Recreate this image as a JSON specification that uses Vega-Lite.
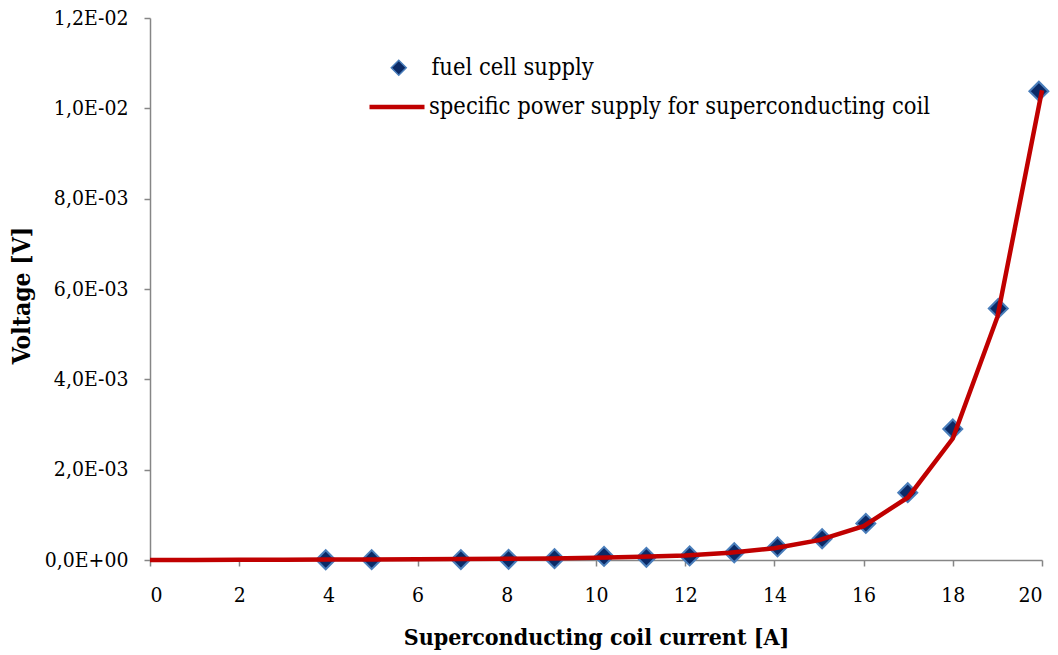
{
  "$schema": "https://vega.github.io/schema/vega-lite/v6.json",
  "width": 892,
  "height": 542,
  "autosize": {"type": "none"},
  "padding": {"left": 150, "top": 18, "right": 16, "bottom": 95},
  "background": "white",
  "config": {
    "view": {"stroke": null},
    "font": "DejaVu Serif Condensed",
    "axis": {
      "grid": false,
      "domainColor": "#868686",
      "domainWidth": 1.5,
      "tickColor": "#868686",
      "tickWidth": 1.5,
      "tickSize": 6,
      "labelFont": "DejaVu Serif Condensed",
      "labelColor": "#000000",
      "titleFont": "DejaVu Serif Condensed",
      "titleColor": "#000000",
      "titleFontWeight": "bold",
      "titleFontSize": 23
    },
    "legend": {
      "labelFont": "DejaVu Serif Condensed",
      "labelFontSize": 23.5,
      "labelColor": "#000000",
      "labelLimit": 900
    }
  },
  "datasets": {
    "points": [
      {"current": 3.94, "voltage": 0.000005},
      {"current": 4.97, "voltage": 0.000008},
      {"current": 6.97, "voltage": 0.00001},
      {"current": 8.04, "voltage": 0.000015},
      {"current": 9.07, "voltage": 0.00003},
      {"current": 10.18, "voltage": 0.00008},
      {"current": 11.13, "voltage": 0.00006},
      {"current": 12.1, "voltage": 0.00009},
      {"current": 13.1, "voltage": 0.00016},
      {"current": 14.07, "voltage": 0.00029},
      {"current": 15.07, "voltage": 0.00047},
      {"current": 16.05, "voltage": 0.00081},
      {"current": 16.99, "voltage": 0.00149},
      {"current": 18.0, "voltage": 0.0029},
      {"current": 19.02, "voltage": 0.00557},
      {"current": 19.93, "voltage": 0.01038}
    ],
    "line": [
      {"current": 0, "voltage": 0},
      {"current": 1, "voltage": 0.000002},
      {"current": 2, "voltage": 0.000004},
      {"current": 3, "voltage": 0.000007},
      {"current": 4, "voltage": 0.00001},
      {"current": 5, "voltage": 0.000012},
      {"current": 6, "voltage": 0.000015},
      {"current": 7, "voltage": 0.00002},
      {"current": 8, "voltage": 0.000025},
      {"current": 9, "voltage": 0.000035},
      {"current": 10, "voltage": 0.00005},
      {"current": 11, "voltage": 0.00007},
      {"current": 12, "voltage": 0.0001},
      {"current": 13, "voltage": 0.00016},
      {"current": 14, "voltage": 0.00026},
      {"current": 15, "voltage": 0.00044},
      {"current": 16, "voltage": 0.00075},
      {"current": 17, "voltage": 0.00139},
      {"current": 18, "voltage": 0.00269},
      {"current": 19, "voltage": 0.00538},
      {"current": 20, "voltage": 0.0104}
    ]
  },
  "layer": [
    {
      "data": {"name": "points"},
      "mark": {"type": "point", "shape": "diamond", "filled": true, "size": 360, "opacity": 1, "stroke": "#4A7EBB", "strokeWidth": 2},
      "encoding": {
        "x": {
          "field": "current", "type": "quantitative",
          "scale": {"domain": [0, 20], "nice": false, "zero": false},
          "axis": {
            "values": [0, 2, 4, 6, 8, 10, 12, 14, 16, 18, 20],
            "labelFontSize": 21,
            "labelPadding": 18,
            "title": "Superconducting coil current [A]",
            "titleY": 66
          }
        },
        "y": {
          "field": "voltage", "type": "quantitative",
          "scale": {"domain": [0, 0.012], "nice": false},
          "axis": {
            "values": [0, 0.002, 0.004, 0.006, 0.008, 0.01, 0.012],
            "labelExpr": "replace(replace(replace(format(datum.value, '.1e'), '.', ','), 'e-', 'E-0'), 'e+', 'E+0')",
            "labelFontSize": 21,
            "labelPadding": 16,
            "title": "Voltage [V]",
            "titleFontSize": 24.5,
            "titleX": -116,
            "titleY": 277
          }
        },
        "color": {
          "datum": "fuel cell supply",
          "type": "nominal",
          "scale": {"range": ["#0B2A66"]},
          "legend": {
            "title": null,
            "orient": "none",
            "legendX": 237,
            "legendY": 38,
            "symbolType": "diamond",
            "symbolSize": 225,
            "symbolStrokeColor": "#4A7EBB",
            "symbolStrokeWidth": 1.5,
            "symbolOpacity": 1,
            "labelOffset": 21
          }
        }
      }
    },
    {
      "data": {"name": "line"},
      "mark": {"type": "line", "strokeWidth": 4.5},
      "encoding": {
        "x": {"field": "current", "type": "quantitative"},
        "y": {"field": "voltage", "type": "quantitative"},
        "color": {
          "datum": "specific power supply for superconducting coil",
          "type": "nominal",
          "scale": {"range": ["#C00000"]},
          "legend": {
            "title": null,
            "orient": "none",
            "legendX": 217,
            "legendY": 59,
            "symbolType": "stroke",
            "symbolSize": 3025,
            "symbolStrokeWidth": 4.5,
            "symbolStrokeColor": "#C00000",
            "labelOffset": 2
          }
        }
      }
    }
  ],
  "resolve": {"scale": {"color": "independent"}, "legend": {"color": "independent"}}
}
